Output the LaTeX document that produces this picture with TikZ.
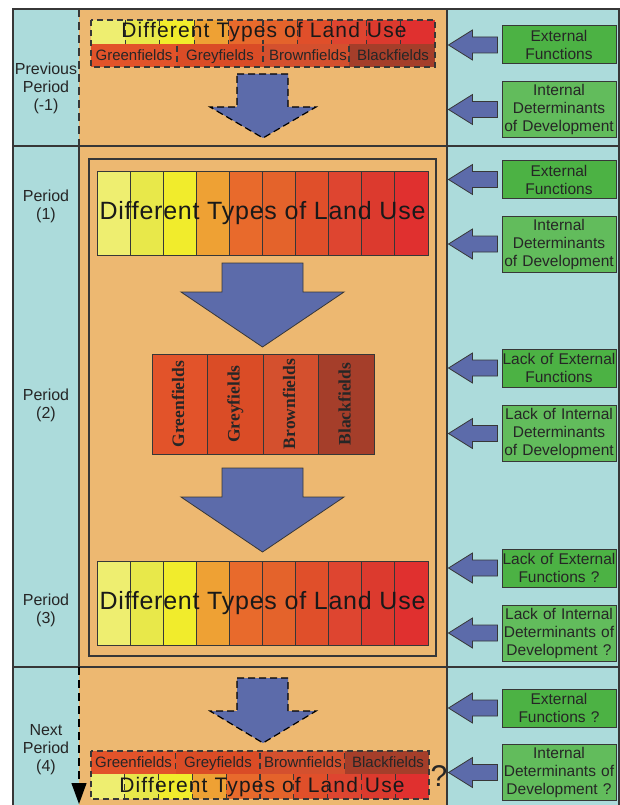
\documentclass[tikz,border=0pt]{standalone}
\usepackage{fontspec}
\setmainfont{Liberation Sans}
\newfontfamily\fieldserif{Liberation Serif}
\usetikzlibrary{arrows.meta}

\definecolor{panelCyan}{RGB}{172,219,219}
\definecolor{panelOrange}{RGB}{237,184,113}
\definecolor{lineGray}{RGB}{55,55,55}
\definecolor{arrowBlue}{RGB}{92,107,170}
\definecolor{boxGreen}{RGB}{76,178,68}
\definecolor{boxGreenLight}{RGB}{98,188,92}
\definecolor{landA}{RGB}{238,238,112}
\definecolor{landB}{RGB}{232,232,74}
\definecolor{landC}{RGB}{241,236,44}
\definecolor{landD}{RGB}{238,161,52}
\definecolor{landE}{RGB}{232,106,44}
\definecolor{landF}{RGB}{228,99,43}
\definecolor{landG}{RGB}{224,79,42}
\definecolor{landH}{RGB}{222,69,48}
\definecolor{landI}{RGB}{220,58,46}
\definecolor{landJ}{RGB}{224,48,47}
\definecolor{fieldGreen}{RGB}{226,83,42}
\definecolor{fieldGrey}{RGB}{218,76,38}
\definecolor{fieldBrown}{RGB}{212,80,46}
\definecolor{fieldBlack}{RGB}{165,62,42}

\newcommand{\periodfont}{\fontsize{16}{18}\selectfont}
\newcommand{\factorfont}{\fontsize{15.5}{18}\selectfont}
\newcommand{\fieldfont}{\fontsize{15}{17}\selectfont}
\newcommand{\landfont}{\fontsize{25}{28}\selectfont\addfontfeature{LetterSpace=3}}
\newcommand{\landfontsmall}{\fontsize{21}{24}\selectfont\addfontfeature{LetterSpace=5.5}}

\tikzset{
  frame/.style={draw=lineGray, line width=1.2pt},
  cell/.style={draw=lineGray, line width=0.9pt},
  dashcell/.style={draw=lineGray, line width=1.2pt, dash pattern=on 6pt off 4pt},
  blockarrow/.style={fill=arrowBlue, draw=lineGray, line width=0.8pt},
  period/.style={font=\periodfont, align=center, text=black!85},
  factor/.style={draw=lineGray, line width=1pt, text width=114pt, inner sep=0pt,
    align=center, font=\factorfont, text=black!85},
  twoline/.style={factor, minimum height=38pt},
  threeline/.style={factor, minimum height=56pt},
  landtext/.style={font=\landfont, text=black!90, inner sep=0pt},
  landsmall/.style={font=\landfontsmall, text=black!90, inner sep=0pt},
  fieldtext/.style={font=\fieldfont, text=black!85, inner sep=0pt,
    text height=0.72em, text depth=0.2em},
  fieldup/.style={font=\fieldserif\bfseries\fontsize{17.5}{18}\selectfont,
    text=black!85, rotate=90, inner sep=0pt, text height=0.68em, text depth=0.2em},
  pics/inarrow/.style={code={
    \filldraw[blockarrow] (-4,-8) -- (-29,-8) -- (-29,-15) -- (-53,0)
      -- (-29,15) -- (-29,8) -- (-4,8) -- cycle;}}
}

\begin{document}
\begin{tikzpicture}[x=1pt, y=-1pt]
\useasboundingbox (0,0) rectangle (620,805);

% panels
\fill[panelCyan] (13,9) rectangle (619,805);
\fill[panelOrange] (79,9) rectangle (447,805);
\draw[frame] (13,805) -- (13,9) -- (619,9) -- (619,805);
\draw[frame] (447,9) -- (447,805);
\draw[frame] (13,146) -- (619,146);
\draw[frame] (13,667) -- (619,667);

% time axis
\coordinate (tStart) at (79,9);
\coordinate (tPrev) at (79,146);
\coordinate (tNext) at (79,667);
\coordinate (tEnd) at (79,804);
\draw[frame, dash pattern=on 8pt off 5pt] (tStart) -- (tPrev);
\draw[frame] (tPrev) -- (tNext);
\draw[frame, draw=black, dash pattern=on 8pt off 5pt,
  -{Triangle[length=21pt, width=15pt]}] (tNext) -- (tEnd);

% period labels
\node[period] (pPrev) at (46,88) {Previous\\Period\\(-1)};
\node[period] (pOne) at (46,206) {Period\\(1)};
\node[period] (pTwo) at (46,405) {Period\\(2)};
\node[period] (pThree) at (46,610) {Period\\(3)};
\node[period] (pNext) at (46,750) {Next\\Period\\(4)};

% inner frame
\draw[frame, line width=1.5pt] (89,159) rectangle (436,656);

% previous period: land use
\foreach \c [count=\i from 0] in {landA,landB,landC,landD,landE,landF,landG,landH,landI,landJ}
  \fill[\c] (91+34.4*\i,20) rectangle ++(34.4,24);
\foreach \c [count=\i from 0] in {fieldGreen,fieldGrey,fieldBrown,fieldBlack}
  \fill[\c] (91+86*\i,44) rectangle ++(86,23);
\foreach \i in {1,...,9}
  \draw[dashcell] (91+34.4*\i,20) -- (91+34.4*\i,44);
\foreach \i in {1,2,3}
  \draw[dashcell] (91+86*\i,46) -- (91+86*\i,65);
\draw[dashcell] (91,20) rectangle (435,67);
\node[landsmall] (landPrev) at (264,32) {Different Types of Land Use};
\node[fieldtext] (greenPrev) at (134,58) {Greenfields};
\node[fieldtext] (greyPrev) at (220,58) {Greyfields};
\node[fieldtext] (brownPrev) at (308,58) {Brownfields};
\node[fieldtext] (blackPrev) at (393,58) {Blackfields};
\filldraw[blockarrow, draw=black, line width=1.2pt, dash pattern=on 7pt off 4pt]
  (237,74) -- (288,74) -- (288,107) -- (316,107) -- (263,138) -- (210,107)
  -- (237,107) -- cycle;

% period 1
\foreach \c [count=\i from 0] in {landA,landB,landC,landD,landE,landF,landG,landH,landI,landJ}
  \filldraw[cell, fill=\c] (97+33.1*\i,171) rectangle ++(33.1,84);
\node[landtext] (landOne) at (262.5,213) {Different Types of Land Use};
\filldraw[blockarrow] (222,263) -- (303,263) -- (303,292) -- (344,292)
  -- (262.5,347) -- (181,292) -- (222,292) -- cycle;

% period 2
\foreach \c [count=\i from 0] in {fieldGreen,fieldGrey,fieldBrown,fieldBlack}
  \filldraw[cell, fill=\c] (152+55.5*\i,354) rectangle ++(55.5,100);
\node[fieldup] (greenTwo) at (181.75,404) {Greenfields};
\node[fieldup] (greyTwo) at (237.25,404) {Greyfields};
\node[fieldup] (brownTwo) at (292.75,404) {Brownfields};
\node[fieldup] (blackTwo) at (348.25,404) {Blackfields};
\filldraw[blockarrow] (222,468) -- (303,468) -- (303,497) -- (344,497)
  -- (262.5,552) -- (181,497) -- (222,497) -- cycle;

% period 3
\foreach \c [count=\i from 0] in {landA,landB,landC,landD,landE,landF,landG,landH,landI,landJ}
  \filldraw[cell, fill=\c] (97+33.1*\i,561) rectangle ++(33.1,84);
\node[landtext] (landThree) at (262.5,603) {Different Types of Land Use};

% next period
\filldraw[blockarrow, draw=black, line width=1.2pt, dash pattern=on 7pt off 4pt]
  (237,678) -- (288,678) -- (288,711) -- (316,711) -- (263,743) -- (210,711)
  -- (237,711) -- cycle;
\foreach \c [count=\i from 0] in {fieldGreen,fieldGrey,fieldBrown,fieldBlack}
  \fill[\c] (91+84.5*\i,751) rectangle ++(84.5,23);
\foreach \c [count=\i from 0] in {landA,landB,landC,landD,landE,landF,landG,landH,landI,landJ}
  \fill[\c] (91+33.8*\i,774) rectangle ++(33.8,25);
\foreach \i in {1,2,3}
  \draw[dashcell] (91+84.5*\i,753) -- (91+84.5*\i,772);
\foreach \i in {1,...,9}
  \draw[dashcell] (91+33.8*\i,774) -- (91+33.8*\i,799);
\draw[dashcell] (91,751) rectangle (429,799);
\node[fieldtext] (greenNext) at (133.5,765) {Greenfields};
\node[fieldtext] (greyNext) at (218,765) {Greyfields};
\node[fieldtext] (brownNext) at (303,765) {Brownfields};
\node[fieldtext] (blackNext) at (388,765) {Blackfields};
\node[landsmall] (landNext) at (262,787) {Different Types of Land Use};
\node[font=\fontsize{30}{30}\selectfont, text=black!85, inner sep=0pt] (query) at (439,776) {?};

% external and internal factors
\node[twoline, fill=boxGreen] (extPrev) at (559,45) {External\\Functions};
\node[threeline, fill=boxGreenLight] (intPrev) at (559,109.5) {Internal\\Determinants\\of Development};
\node[twoline, fill=boxGreen] (extOne) at (559,179.5) {External\\Functions};
\node[threeline, fill=boxGreenLight] (intOne) at (559,244) {Internal\\Determinants\\of Development};
\node[twoline, fill=boxGreen] (extTwo) at (559,368) {Lack of External\\Functions};
\node[threeline, fill=boxGreenLight] (intTwo) at (559,433.5) {Lack of Internal\\Determinants\\of Development};
\node[twoline, fill=boxGreen] (extThree) at (559,568) {Lack of External\\Functions ?};
\node[threeline, fill=boxGreenLight] (intThree) at (559,633) {Lack of Internal\\Determinants of\\Development ?};
\node[twoline, fill=boxGreen] (extNext) at (559,708) {External\\Functions ?};
\node[threeline, fill=boxGreenLight] (intNext) at (559,772.5) {Internal\\Determinants of\\Development ?};

\foreach \f in {extPrev,intPrev,extOne,intOne,extTwo,intTwo,extThree,intThree,extNext,intNext}
  \pic at (\f.west) {inarrow};
\end{tikzpicture}
\end{document}
